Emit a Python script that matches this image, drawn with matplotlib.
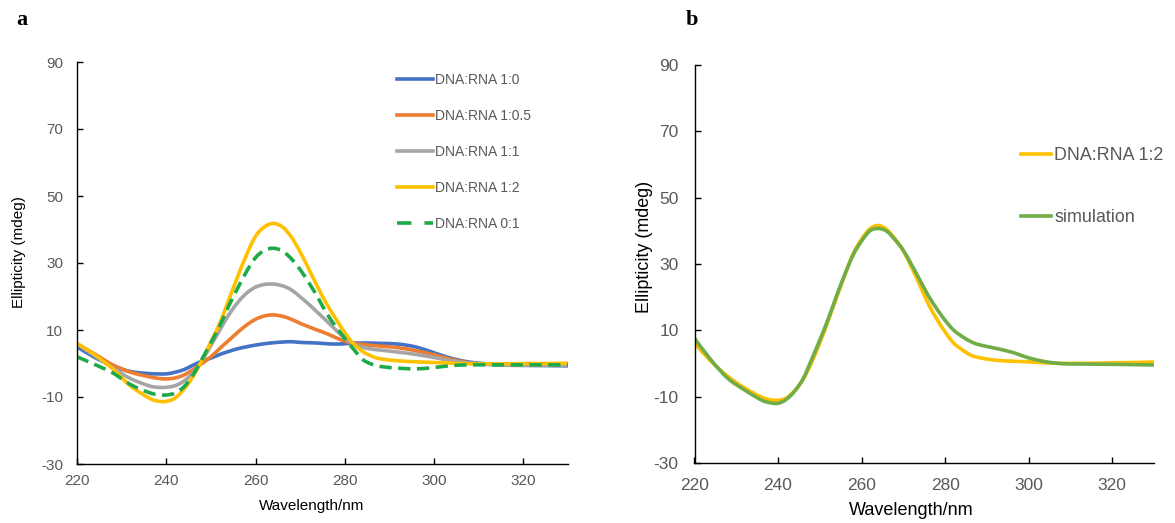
import matplotlib
matplotlib.use("Agg")
import matplotlib.pyplot as plt
import numpy as np
from matplotlib.path import Path
from matplotlib.patches import PathPatch
from matplotlib.lines import Line2D

plt.rcParams['font.family'] = ['Liberation Sans', 'DejaVu Sans']
plt.rcParams['axes.unicode_minus'] = False

# ---------------- data ----------------
wavelength = [220, 224, 228, 232, 236, 238, 240, 242, 244, 246, 248, 250, 252, 254,
              256, 258, 260, 262, 264, 266, 268, 270, 272, 274, 276, 278, 280, 282,
              284, 286, 288, 292, 296, 300, 304, 308, 312, 316, 320, 325, 330]

# panel a
ratio_1_0 = [5.0, 1.8, -0.7, -2.4, -3.0, -3.1, -3.1, -2.6, -1.8, -0.5, 0.7, 1.6, 2.7, 3.6,
             4.4, 5.0, 5.5, 5.9, 6.2, 6.4, 6.5, 6.3, 6.2, 6.1, 5.9, 5.8, 5.9, 6.1,
             6.1, 6.1, 6.0, 5.8, 4.9, 3.2, 1.5, 0.4, -0.1, -0.4, -0.5, -0.6, -0.7]

ratio_1_05 = [5.8, 2.8, -0.4, -2.6, -3.9, -4.4, -4.6, -4.3, -3.4, -1.8, 0.0, 2.0, 4.5, 6.9,
              9.3, 11.5, 13.2, 14.2, 14.5, 14.1, 13.2, 12.0, 10.9, 9.9, 8.9, 7.7, 6.7, 6.0,
              5.7, 5.4, 5.2, 4.7, 3.8, 2.6, 1.2, 0.2, -0.2, -0.3, -0.4, -0.4, -0.4]

ratio_1_1 = [5.8, 2.3, -1.3, -4.5, -6.6, -7.1, -7.1, -6.6, -5.2, -2.7, 0.9, 5.4, 10.0, 14.5,
             18.2, 21.0, 22.8, 23.6, 23.7, 23.2, 22.0, 19.9, 17.6, 15.1, 12.6, 10.0, 7.6, 5.8,
             4.8, 4.3, 4.0, 3.4, 2.7, 1.8, 0.8, 0.1, -0.3, -0.5, -0.6, -0.6, -0.6]

ratio_1_2 = [6.0, 2.6, -1.6, -6.7, -10.2, -11.2, -11.3, -10.3, -7.6, -3.9, 0.9, 6.5, 12.0, 19.0,
             26.0, 32.5, 38.0, 40.8, 41.8, 40.8, 37.8, 33.3, 28.0, 22.6, 17.6, 13.3, 9.2, 5.8,
             3.6, 2.2, 1.4, 0.8, 0.5, 0.3, 0.1, -0.1, -0.1, -0.1, 0.0, 0.0, 0.1]

ratio_0_1 = [2.0, -0.3, -2.8, -6.3, -8.6, -9.3, -9.4, -8.8, -6.9, -3.4, 1.3, 6.2, 11.3, 17.2,
             22.5, 27.5, 31.6, 33.8, 34.4, 33.6, 31.3, 28.0, 24.0, 19.6, 14.8, 11.0, 7.5, 4.2,
             1.2, -0.2, -0.9, -1.4, -1.6, -1.2, -0.6, -0.4, -0.4, -0.4, -0.4, -0.4, -0.4]

# panel b
ratio_1_2_b = [6.1, 0.6, -3.9, -7.4, -10.1, -10.9, -11.1, -10.4, -8.2, -4.8, 0.2, 6.2, 12.9, 19.9,
               26.7, 33.2, 37.5, 40.6, 41.6, 40.4, 37.6, 33.9, 28.9, 23.5, 17.9, 13.4, 9.5, 6.2,
               4.2, 2.6, 1.8, 1.0, 0.7, 0.5, 0.2, 0.05, 0.05, 0.1, 0.2, 0.3, 0.45]

simulation = [7.6, 1.0, -4.5, -8.0, -11.0, -11.8, -12.0, -10.8, -8.3, -4.6, 1.1, 7.1, 13.4, 20.4,
              26.9, 32.8, 36.9, 40.0, 40.7, 39.9, 37.3, 34.1, 29.7, 25.1, 20.4, 16.5, 13.0, 10.1,
              8.2, 6.7, 5.7, 4.6, 3.4, 1.7, 0.55, -0.05, -0.15, -0.2, -0.25, -0.35, -0.45]

labels_a = ["DNA:RNA 1:0", "DNA:RNA 1:0.5", "DNA:RNA 1:1", "DNA:RNA 1:2", "DNA:RNA 0:1"]
labels_b = ["DNA:RNA 1:2", "simulation"]
x_ticks = [220, 240, 260, 280, 300, 320]
y_ticks = [-30, -10, 10, 30, 50, 70, 90]

# ---------------- figure ----------------
W, H = 1175, 523
fig = plt.figure(figsize=(W / 100, H / 100), dpi=100)
fig.patch.set_facecolor('white')

TICK_COLOR = '#595959'
LW = 2.6
BLUE, ORANGE, GRAY, YELLOW = '#4472C4', '#ED7D31', '#A5A5A5', '#FFC000'
GREEN_D, GREEN_S = '#1FAA4A', '#70AD47'


def smooth_curve(ax, xs, ys, color, dashes=None):
    """Smoothed line through the data points (Catmull-Rom Bezier, like a spreadsheet's smoothed line)."""
    x = np.asarray(xs, float)
    y = np.asarray(ys, float)
    n = len(x)
    verts = [(x[0], y[0])]
    codes = [Path.MOVETO]
    for i in range(n - 1):
        i0 = max(i - 1, 0)
        i3 = min(i + 2, n - 1)
        c1 = (x[i] + (x[i + 1] - x[i0]) / 6.0, y[i] + (y[i + 1] - y[i0]) / 6.0)
        c2 = (x[i + 1] - (x[i3] - x[i]) / 6.0, y[i + 1] - (y[i3] - y[i]) / 6.0)
        verts += [c1, c2, (x[i + 1], y[i + 1])]
        codes += [Path.CURVE4] * 3
    ls = '-' if dashes is None else (0, dashes)
    patch = PathPatch(Path(verts, codes), facecolor='none', edgecolor=color, lw=LW,
                      linestyle=ls, capstyle='butt' if dashes else 'round', joinstyle='round')
    ax.add_patch(patch)


def style_axes(ax, fs, ypad, xpad):
    ax.set_xlim(220, 330)
    ax.set_ylim(-30, 90)
    ax.set_xticks(x_ticks)
    ax.set_yticks(y_ticks)
    for s in ['top', 'right']:
        ax.spines[s].set_visible(False)
    for s in ['left', 'bottom']:
        ax.spines[s].set_color('#000000')
        ax.spines[s].set_linewidth(1.0)
    ax.tick_params(axis='both', direction='in', length=4, width=1.0, color='#000000',
                   labelsize=fs, labelcolor=TICK_COLOR)
    ax.tick_params(axis='y', pad=ypad)
    ax.tick_params(axis='x', pad=xpad)


# Panel a
ax1 = fig.add_axes([77 / W, 1 - 464 / H, (568 - 77) / W, (464 - 62) / H])
style_axes(ax1, 11, 10, 7)
for ys, c in [(ratio_1_0, BLUE), (ratio_1_05, ORANGE), (ratio_1_1, GRAY), (ratio_1_2, YELLOW)]:
    smooth_curve(ax1, wavelength, ys, c)
smooth_curve(ax1, wavelength, ratio_0_1, GREEN_D, dashes=(3.4, 1.8))
ax1.set_xlabel('Wavelength/nm', fontsize=11, color='black')
ax1.xaxis.set_label_coords(0.477, -0.088)
ax1.set_ylabel('Ellipticity (mdeg)', fontsize=11, color='black')
ax1.yaxis.set_label_coords(-0.104, 0.527)
handles_a = [Line2D([], [], color=c, lw=LW) for c in (BLUE, ORANGE, GRAY, YELLOW)]
handles_a.append(Line2D([], [], color=GREEN_D, lw=LW, dashes=(4.0, 3.6), dash_capstyle='butt'))
leg1 = ax1.legend(handles_a, labels_a, loc='upper left', bbox_to_anchor=(397 / W, 1 - 73 / H),
                  bbox_transform=fig.transFigure, frameon=False, fontsize=10,
                  handlelength=2.6, handletextpad=0.15, labelspacing=1.58,
                  borderpad=0, borderaxespad=0)
for t in leg1.get_texts():
    t.set_color(TICK_COLOR)

# Panel b
ax2 = fig.add_axes([694.5 / W, 1 - 463 / H, (1154 - 694.5) / W, (463 - 65) / H])
style_axes(ax2, 12.5, 11.5, 11)
smooth_curve(ax2, wavelength, ratio_1_2_b, YELLOW)
smooth_curve(ax2, wavelength, simulation, GREEN_S)
ax2.set_xlabel('Wavelength/nm', fontsize=13, color='black')
ax2.xaxis.set_label_coords(0.471, -0.097)
ax2.set_ylabel('Ellipticity (mdeg)', fontsize=12.9, color='black')
ax2.yaxis.set_label_coords(-0.090, 0.543)
handles_b = [Line2D([], [], color=c, lw=LW) for c in (YELLOW, GREEN_S)]
leg2 = ax2.legend(handles_b, labels_b, loc='upper left', bbox_to_anchor=(1020.5 / W, 1 - 147 / H),
                  bbox_transform=fig.transFigure, frameon=False, fontsize=12.9,
                  handlelength=1.7, handletextpad=0.17, labelspacing=2.52,
                  borderpad=0, borderaxespad=0)
for t in leg2.get_texts():
    t.set_color(TICK_COLOR)

# Panel letters
fig.text(16 / W, 1 - 25 / H, 'a', fontsize=16, fontweight='bold',
         family=['Liberation Serif', 'DejaVu Serif'], ha='left', va='baseline')
fig.text(686 / W, 1 - 25 / H, 'b', fontsize=16, fontweight='bold',
         family=['Liberation Serif', 'DejaVu Serif'], ha='left', va='baseline')

fig.savefig('out.png', dpi=100, facecolor='white')
